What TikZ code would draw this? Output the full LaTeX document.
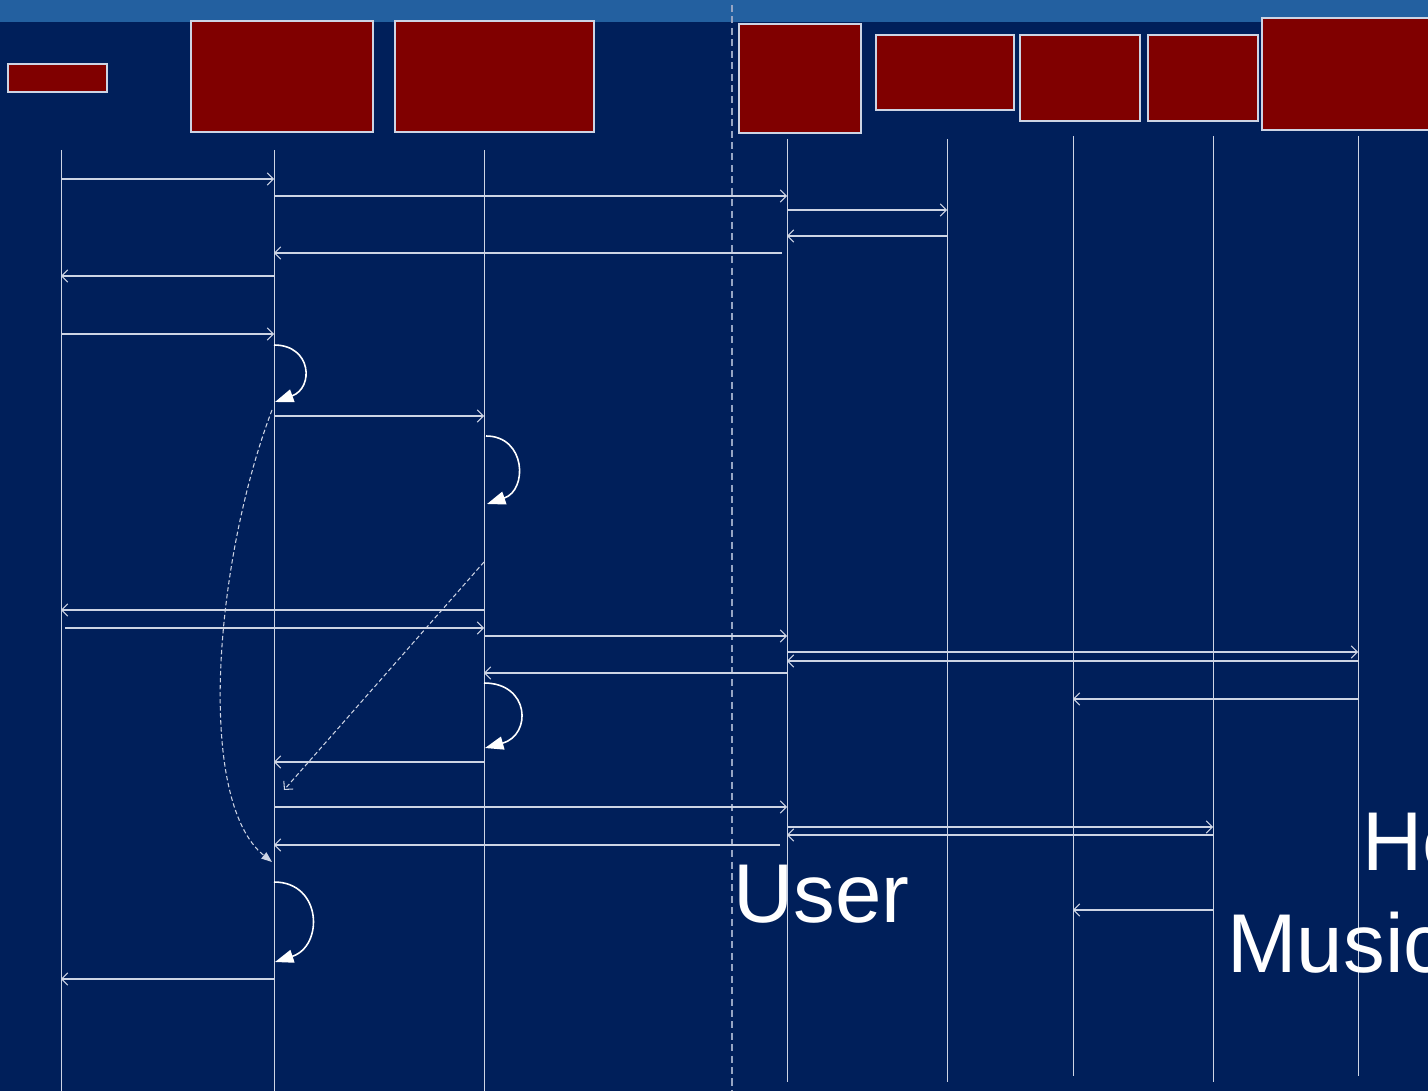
\documentclass[tikz,border=0pt]{standalone}
\usepackage{fontspec}
\setmainfont{Liberation Sans}
\usetikzlibrary{positioning,arrows.meta,calc}

\definecolor{navy}{RGB}{0,31,90}
\definecolor{topbar}{RGB}{35,96,160}
\definecolor{boxred}{RGB}{128,0,0}
\definecolor{linegray}{RGB}{205,212,228}
\definecolor{sepgray}{RGB}{150,165,195}

\begin{document}
\begin{tikzpicture}[
  x=0.02cm, y=-0.02cm,
  actor/.style={rectangle, draw=linegray, line width=0.6pt, fill=boxred, inner sep=0pt},
  life/.style={draw=linegray, line width=0.55pt},
  msg/.style={draw=linegray, line width=0.6pt, -{Straight Barb[length=3.4pt,width=7pt]}},
  selfcall/.style={draw=white, line width=0.9pt, -{Triangle[length=10.5pt,width=7.5pt]}},
  hint/.style={draw=linegray, line width=0.6pt, dashed, dash pattern=on 2.5pt off 1.5pt},
  bigtext/.style={font=\fontsize{47.5}{54}\selectfont, text=white, inner sep=0pt, anchor=base west}
]
\useasboundingbox (0,0) rectangle (1428,1091);
\clip (0,0) rectangle (1428,1091);
% background and title strip
\fill[navy] (0,0) rectangle (1428,1091);
\fill[topbar] (0,0) rectangle (1428,22);
\draw[sepgray, line width=0.6pt, dash pattern=on 4pt off 2.5pt] (732,5) -- (732,1091);

% participants
\node[actor, minimum width=1.98cm, minimum height=0.56cm] (obj1) at (57.5,78) {};
\node[actor, minimum width=3.64cm, minimum height=2.22cm] (obj2) at (282,76.5) {};
\node[actor, minimum width=3.98cm, minimum height=2.22cm] (obj3) at (494.5,76.5) {};
\node[actor, minimum width=2.44cm, minimum height=2.18cm] (obj4) at (800,78.5) {};
\node[actor, minimum width=2.76cm, minimum height=1.50cm] (obj5) at (945,72.5) {};
\node[actor, minimum width=2.40cm, minimum height=1.72cm] (obj6) at (1080,78) {};
\node[actor, minimum width=2.20cm, minimum height=1.72cm] (obj7) at (1203,78) {};
\node[actor, minimum width=3.56cm, minimum height=2.24cm] (obj8) at (1351,74) {};

% lifelines
\foreach \n/\x/\a/\b in {1/61/150/1091, 2/274/150/1091, 3/484/150/1091, 4/787/139/1082,
                         5/947/139/1082, 6/1073/136/1076, 7/1213/136/1082, 8/1358/136/1076} {
  \coordinate (l\n) at (\x,\a);
  \draw[life] (l\n) -- (\x,\b);
}

% messages
\foreach \s/\t/\y in {1/2/179, 2/4/196, 4/5/210, 5/4/236, 2/1/276, 1/2/334, 2/3/416,
                      3/1/610, 3/4/636, 4/8/652, 8/4/661, 4/3/673, 8/6/699,
                      3/2/762, 2/4/807, 4/7/827, 7/4/835, 7/6/910, 2/1/979} {
  \draw[msg] (l\s |- 0,\y) -- (l\t |- 0,\y);
}
\draw[msg] ([xshift=-0.1cm]l4 |- 0,253) -- (l2 |- 0,253);
\draw[msg] ([xshift=0.08cm]l1 |- 0,628) -- (l3 |- 0,628);
\draw[msg] ([xshift=-0.14cm]l4 |- 0,845) -- (l2 |- 0,845);

% self calls
\coordinate (s1a) at (274,345); \coordinate (s1b) at (275,402);
\coordinate (s2a) at (486,436); \coordinate (s2b) at (487,504);
\coordinate (s3a) at (484,683); \coordinate (s3b) at (485,748);
\coordinate (s4a) at (274,882); \coordinate (s4b) at (275,962);
\draw[selfcall] (s1a) .. controls (312,345) and (314,388) .. (s1b);
\draw[selfcall] (s2a) .. controls (526,436) and (528,490) .. (s2b);
\draw[selfcall] (s3a) .. controls (530,683) and (532,735) .. (s3b);
\draw[selfcall] (s4a) .. controls (322,882) and (324,946) .. (s4b);

% dashed hints
\coordinate (h1a) at (272,410); \coordinate (h1b) at (272,862);
\coordinate (h2a) at (484,562); \coordinate (h2b) at (284,790);
\draw[hint, -{Triangle[length=6pt,width=4.5pt]}] (h1a) .. controls (215,560) and (195,800) .. (h1b);
\draw[hint, -{Straight Barb[length=3.4pt,width=7pt]}] (h2a) -- (h2b);

% labels
\node[bigtext] (user) at (733,922) {User};
\node[bigtext] (he) at (1362,870) {He};
\node[bigtext] (music) at (1227,972) {Music};
\end{tikzpicture}
\end{document}
